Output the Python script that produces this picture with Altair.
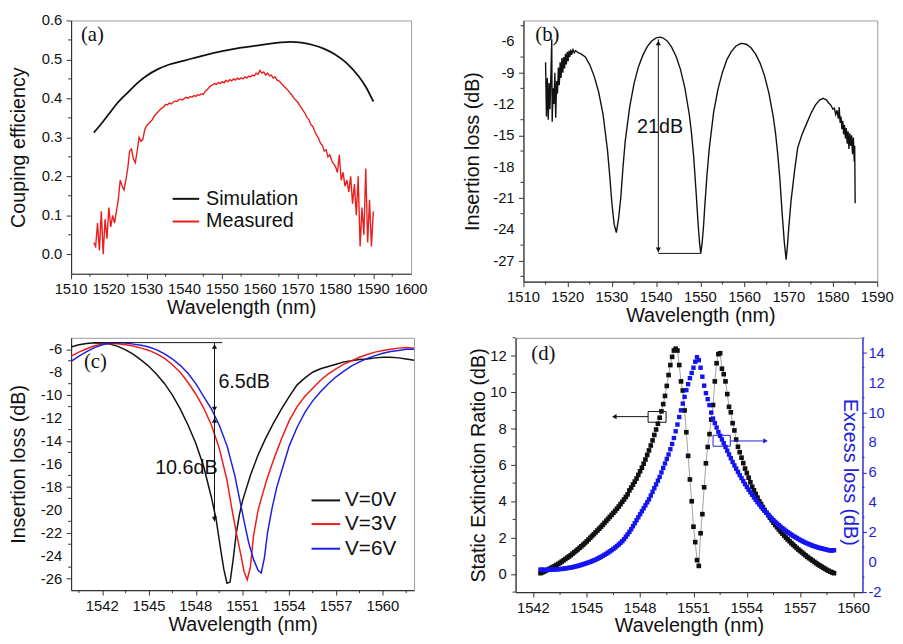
import altair as alt
import pandas as pd

FONT = "Liberation Sans"
SERIF = "Liberation Serif"
INK = "#111111"
AXC = "#333333"
RED = "#ec1c1c"
BLUE = "#1e1ede"
MBLUE = "#1414f0"
GREY_LINE = "#8a8a8a"

# ---------------- (a) coupling efficiency ----------------
sim_wl = [1516, 1518, 1520, 1522, 1525, 1528, 1530, 1533, 1536, 1540, 1545, 1550,
          1555, 1560, 1565, 1568, 1571, 1574, 1577, 1580, 1583, 1586, 1588, 1590]
sim_ce = [0.312, 0.335, 0.360, 0.385, 0.415, 0.443, 0.458, 0.475, 0.487, 0.497, 0.510, 0.521,
          0.530, 0.537, 0.543, 0.545, 0.543, 0.537, 0.527, 0.512, 0.490, 0.458, 0.430, 0.392]
meas_ce = [
    0.03, 0.02, 0.08, 0.01, 0.11, 0.00, 0.09, 0.04, 0.12, 0.07,
    0.10, 0.08, 0.11, 0.14, 0.19, 0.175, 0.165, 0.19, 0.22, 0.265,
    0.27, 0.245, 0.235, 0.265, 0.30, 0.29, 0.295, 0.32, 0.33, 0.335,
    0.34, 0.345, 0.355, 0.36, 0.365, 0.37, 0.375, 0.378, 0.385, 0.383,
    0.388, 0.386, 0.39, 0.393, 0.392, 0.396, 0.398, 0.396, 0.40, 0.403,
    0.40, 0.405, 0.403, 0.407, 0.405, 0.41, 0.408, 0.412, 0.41, 0.418,
    0.422, 0.428, 0.432, 0.435, 0.438, 0.436, 0.441, 0.438, 0.443, 0.44,
    0.446, 0.443, 0.448, 0.445, 0.45, 0.447, 0.452, 0.449, 0.453, 0.45,
    0.455, 0.452, 0.457, 0.455, 0.46, 0.458, 0.465, 0.462, 0.472, 0.465,
    0.468, 0.46, 0.465, 0.458, 0.46, 0.452, 0.455, 0.447, 0.445, 0.44,
    0.435, 0.43, 0.425, 0.42, 0.413, 0.408, 0.40, 0.395, 0.39, 0.382,
    0.375, 0.368, 0.36, 0.35, 0.345, 0.332, 0.328, 0.315, 0.305, 0.298,
    0.285, 0.28, 0.265, 0.268, 0.25, 0.255, 0.24, 0.232, 0.225, 0.21,
    0.255, 0.19, 0.21, 0.175, 0.19, 0.16, 0.20, 0.13, 0.18, 0.10,
    0.20, 0.02, 0.12, 0.05, 0.22, 0.03, 0.14, 0.02, 0.11]
meas_wl = [round(1516.0 + 0.5 * i, 1) for i in range(len(meas_ce))]
a_xticks = [1510, 1520, 1530, 1540, 1550, 1560, 1570, 1580, 1590, 1600]
a_yticks = [0.0, 0.1, 0.2, 0.3, 0.4, 0.5, 0.6]
a_ylabels = ["0.0", "0.1", "0.2", "0.3", "0.4", "0.5", "0.6"]

# ---------------- (b) insertion loss spectrum ----------------
b_wl = [1515.0, 1515.2, 1515.4, 1515.6, 1515.8, 1516.0, 1516.2, 1516.4, 1516.5, 1516.7,
        1516.9, 1517.1, 1517.3, 1517.5, 1517.7, 1517.9, 1518.1, 1518.3, 1518.5, 1518.7,
        1518.9, 1519.1, 1519.3, 1519.5, 1519.7, 1519.9, 1520.1, 1520.3, 1520.5, 1520.7,
        1520.9, 1521.2, 1521.5, 1521.8, 1522.1, 1522.5,
        1523, 1524, 1525, 1526, 1527, 1528, 1529, 1529.5, 1530, 1530.5, 1531,
        1531.5, 1532, 1532.5, 1533, 1534, 1535, 1536, 1537, 1538, 1539, 1540, 1540.8,
        1541.5, 1542.5, 1543.5, 1544.5, 1545.5, 1546.5, 1547.5, 1548, 1548.5, 1549, 1549.5, 1549.8, 1550.1,
        1550.4, 1550.7, 1551, 1551.5, 1552, 1553, 1554, 1555, 1556, 1557, 1558, 1559, 1559.5,
        1560.5, 1561.5, 1562.5, 1563.5, 1564.5, 1565.5, 1566.5, 1567, 1567.5, 1568, 1568.5, 1569, 1569.4,
        1569.7, 1570, 1570.5, 1571.3, 1572, 1573, 1574, 1575, 1576, 1577, 1577.8,
        1578, 1578.5, 1579, 1579.5, 1580, 1580.3, 1580.6, 1580.9, 1581.2, 1581.4,
        1581.6, 1581.8, 1582, 1582.2, 1582.4, 1582.6, 1582.8, 1583, 1583.2, 1583.4,
        1583.6, 1583.8, 1584, 1584.2, 1584.4, 1584.6, 1584.8, 1584.9, 1585]
b_il = [-8.0, -13.2, -9.5, -13.5, -10.0, -12.5, -9.2, -5.8, -13.7, -10.5,
        -12.0, -9.0, -13.3, -9.8, -11.0, -8.5, -10.2, -8.0, -9.5, -7.6,
        -9.0, -7.5, -8.6, -7.2, -8.2, -7.0, -7.9, -6.9, -7.5, -6.8,
        -7.3, -6.8, -7.1, -6.9, -7.0, -7.1,
        -7.2, -7.5, -8.25, -9.35, -10.85, -13.0, -16.4, -18.8, -21.5, -23.5, -24.3,
        -23.0, -21.0, -18.1, -15.6, -12.35, -10.05, -8.45, -7.32, -6.5, -5.97, -5.67, -5.6,
        -5.66, -5.96, -6.55, -7.42, -8.68, -10.45, -13.0, -14.8, -17.1, -20.2, -23.5, -25.2, -26.3,
        -25.3, -23.8, -21.8, -18.8, -16.3, -12.8, -10.55, -8.95, -7.75, -6.98, -6.47, -6.23, -6.2,
        -6.3, -6.64, -7.22, -8.08, -9.28, -10.95, -13.25, -14.8, -16.8, -19.3, -22.5, -25.3, -26.9,
        -25.5, -23.8, -21.3, -18.4, -16.2, -14.9, -13.9, -12.9, -12.1, -11.6, -11.45,
        -11.5, -11.6, -11.9, -12.1, -12.5, -12.4, -13.0, -12.6, -13.4, -12.3,
        -13.8, -13.2, -14.4, -13.6, -14.9, -14.0, -15.3, -14.3, -15.8, -14.6,
        -16.3, -14.8, -16.0, -15.0, -16.8, -15.2, -17.5, -16.0, -21.5]
b_xticks = [1510, 1520, 1530, 1540, 1550, 1560, 1570, 1580, 1590]
b_yticks = [-27, -24, -21, -18, -15, -12, -9, -6]

# ---------------- (c) tuning with voltage ----------------
c_labels = ["V=0V", "V=3V", "V=6V"]
c0_wl = [1540, 1540.5, 1541, 1541.5, 1542, 1542.5, 1543, 1543.5, 1544, 1544.5,
         1545, 1545.5, 1546, 1546.5, 1547, 1547.5, 1548, 1548.5, 1549, 1549.3,
         1549.6, 1549.8, 1550.0, 1550.2, 1550.4, 1550.6, 1550.8, 1551.0, 1551.5, 1552,
         1552.5, 1553, 1553.5, 1554, 1554.5, 1555, 1555.5, 1556, 1556.5, 1557,
         1557.5, 1558, 1558.5, 1559, 1559.5, 1560, 1560.5, 1561, 1561.5, 1562]
c0_il = [-5.8, -5.6, -5.5, -5.43, -5.45, -5.55, -5.75, -6.05, -6.45, -6.95,
         -7.5, -8.2, -9.0, -10.0, -11.2, -12.6, -14.2, -16.2, -18.9, -20.8,
         -23.5, -25.2, -26.4, -26.3, -24.3, -22.0, -20.4, -19.2, -17.0, -15.2,
         -13.7, -12.4, -11.2, -10.1, -9.1, -8.5, -8.0, -7.7, -7.5, -7.3,
         -7.1, -7.0, -6.9, -6.85, -6.75, -6.7, -6.7, -6.75, -6.85, -6.95]
c3_wl = [1540, 1540.5, 1541, 1541.5, 1542, 1542.5, 1543, 1543.5, 1544, 1544.5,
         1545, 1545.5, 1546, 1546.5, 1547, 1547.5, 1548, 1548.5, 1549, 1549.5,
         1550, 1550.3, 1550.6, 1550.9, 1551.1, 1551.3, 1551.5, 1551.7, 1552,
         1552.5, 1553, 1553.5, 1554, 1554.5, 1555, 1555.5, 1556, 1556.5, 1557,
         1557.5, 1558, 1558.5, 1559, 1559.5, 1560, 1560.5, 1561, 1561.5, 1562]
c3_il = [-6.6, -6.25, -5.95, -5.7, -5.55, -5.5, -5.52, -5.6, -5.72, -5.9,
         -6.1, -6.4, -6.8, -7.35, -8.0, -8.9, -9.9, -11.1, -12.6, -14.6,
         -17.4, -19.8, -22.0, -24.0, -25.4, -26.1, -25.0, -22.3, -20.0,
         -17.6, -15.6, -13.8, -12.2, -11.0, -10.1, -9.4, -8.7, -8.15, -7.7,
         -7.3, -7.0, -6.7, -6.45, -6.25, -6.1, -6.0, -5.9, -5.85, -5.9]
c6_wl = [1540, 1540.5, 1541, 1541.5, 1542, 1542.5, 1543, 1543.5, 1544, 1544.5,
         1545, 1545.5, 1546, 1546.5, 1547, 1547.5, 1548, 1548.5, 1549, 1549.5,
         1550, 1550.5, 1550.8, 1551.1, 1551.4, 1551.7, 1552, 1552.2, 1552.4, 1552.6,
         1552.9, 1553.2, 1553.6, 1554, 1554.5, 1555, 1555.5, 1556, 1556.5, 1557,
         1557.5, 1558, 1558.5, 1559, 1559.5, 1560, 1560.5, 1561, 1561.5, 1562]
c6_il = [-7.05, -6.6, -6.2, -5.85, -5.6, -5.45, -5.42, -5.45, -5.55, -5.65,
         -5.8, -6.05, -6.4, -6.85, -7.4, -8.1, -9.0, -10.1, -11.2, -12.6,
         -14.4, -17.0, -19.0, -21.0, -22.9, -24.3, -25.3, -25.5, -24.2, -22.0,
         -19.8, -18.0, -16.2, -14.4, -12.8, -11.5, -10.5, -9.7, -9.0, -8.4,
         -7.9, -7.45, -7.1, -6.8, -6.55, -6.35, -6.2, -6.1, -6.0, -6.0]
c_xticks = [1542, 1545, 1548, 1551, 1554, 1557, 1560]
c_yticks = [-26, -24, -22, -20, -18, -16, -14, -12, -10, -8, -6]

# ---------------- (d) extinction ratio / excess loss ----------------
d_er = [0.04, 0.08, 0.13, 0.18, 0.23, 0.28, 0.33, 0.38, 0.43, 0.49,
        0.55, 0.61, 0.68, 0.75, 0.82, 0.89, 0.96, 1.03, 1.11, 1.19,
        1.27, 1.35, 1.44, 1.52, 1.61, 1.70, 1.79, 1.89, 1.99, 2.09,
        2.19, 2.29, 2.39, 2.49, 2.59, 2.70, 2.81, 2.92, 3.03, 3.14,
        3.25, 3.36, 3.47, 3.59, 3.71, 3.84, 3.97, 4.10, 4.24, 4.38,
        4.60, 4.75, 4.92, 5.08, 5.25, 5.45, 5.65, 5.85, 6.07, 6.30,
        6.55, 6.80, 7.07, 7.35, 7.65, 7.95, 8.27, 8.60, 8.95, 9.35,
        9.80, 10.35, 10.95, 11.50, 11.95, 12.30, 12.40, 12.30, 11.50, 10.60,
        10.10, 9.00, 7.80, 6.50, 5.20, 4.00, 2.60, 1.75, 0.76, 0.44,
        2.24, 3.29, 4.77, 6.09, 6.99, 7.70, 8.50, 9.30, 10.60, 11.60,
        12.10, 12.15, 11.30, 11.00, 10.60, 9.90, 9.20, 8.90, 8.30, 7.90,
        7.40, 7.00, 6.70, 6.40, 6.10, 5.80, 5.55, 5.30, 5.05, 4.80,
        4.60, 4.40, 4.20, 4.00, 3.85, 3.68, 3.52, 3.37, 3.23, 3.09,
        2.95, 2.82, 2.69, 2.57, 2.45, 2.33, 2.22, 2.11, 2.00, 1.90,
        1.80, 1.70, 1.61, 1.52, 1.43, 1.34, 1.26, 1.18, 1.10, 1.02,
        0.94, 0.87, 0.80, 0.73, 0.66, 0.59, 0.52, 0.46, 0.40, 0.34,
        0.28, 0.22, 0.17, 0.12, 0.08, 0.04]
d_el = [-0.50, -0.50, -0.52, -0.52, -0.52, -0.51, -0.50, -0.50, -0.49, -0.48,
        -0.47, -0.46, -0.45, -0.44, -0.42, -0.40, -0.38, -0.36, -0.34, -0.31,
        -0.28, -0.25, -0.22, -0.18, -0.14, -0.10, -0.06, -0.02, 0.02, 0.07,
        0.12, 0.17, 0.23, 0.29, 0.35, 0.42, 0.49, 0.56, 0.64, 0.72,
        0.80, 0.89, 0.98, 1.08, 1.18, 1.29, 1.40, 1.54, 1.70, 1.86,
        2.03, 2.20, 2.40, 2.60, 2.80, 3.00, 3.20, 3.40, 3.60, 3.80,
        4.00, 4.20, 4.45, 4.70, 4.95, 5.20, 5.45, 5.70, 6.00, 6.30,
        6.60, 6.90, 7.20, 7.55, 7.90, 8.30, 8.75, 9.20, 9.70, 10.15,
        10.60, 11.05, 11.50, 11.90, 12.30, 12.65, 13.00, 13.40, 13.70, 13.50,
        13.00, 12.40, 11.80, 11.30, 10.90, 10.50, 10.00, 9.60, 9.30, 9.00,
        8.70, 8.45, 8.20, 7.95, 7.70, 7.45, 7.20, 6.95, 6.70, 6.47,
        6.25, 6.03, 5.82, 5.62, 5.42, 5.22, 5.03, 4.85, 4.67, 4.50,
        4.33, 4.17, 4.01, 3.86, 3.71, 3.57, 3.43, 3.30, 3.17, 3.04,
        2.92, 2.80, 2.69, 2.58, 2.47, 2.37, 2.27, 2.18, 2.09, 2.00,
        1.92, 1.84, 1.76, 1.69, 1.62, 1.55, 1.48, 1.42, 1.36, 1.30,
        1.25, 1.20, 1.15, 1.10, 1.06, 1.02, 0.98, 0.95, 0.92, 0.89,
        0.86, 0.83, 0.80, 0.78, 0.78, 0.80]
d_wl = [round(1542.4 + 0.1 * i, 1) for i in range(len(d_er))]
d_xticks = [1542, 1545, 1548, 1551, 1554, 1557, 1560]
d_yticks = [0, 2, 4, 6, 8, 10, 12]
d_rticks = [-2, 0, 2, 4, 6, 8, 10, 12, 14]

assert len(b_wl) == len(b_il)
assert len(c0_wl) == len(c0_il) and len(c3_wl) == len(c3_il) and len(c6_wl) == len(c6_il)
assert len(d_er) == len(d_el)

one = pd.DataFrame({"k": [0]})


def steps(lo, hi, st):
    n = int(round((hi - lo) / st)) + 1
    return [round(lo + st * i, 3) for i in range(n)]


def ax(values, title, tp, tick=5, **kw):
    # tick marks + title from the axis; tick labels are drawn as text marks below
    return alt.Axis(values=values, title=title, tickSize=tick, labels=False,
                    titlePadding=tp, **kw)


XTP = 19


def sc(lo, hi):
    return alt.Scale(domain=[lo, hi], nice=False, zero=False)


def tag(txt, x, y):
    return alt.Chart(one).mark_text(text=txt, font=SERIF, fontSize=21, align="left",
                                    baseline="middle", color=INK).encode(
        x=alt.value(x), y=alt.value(y))


def leg_line(color, x1, x2, y):
    return alt.Chart(one).mark_rule(color=color, strokeWidth=2).encode(
        x=alt.value(x1), x2=alt.value(x2), y=alt.value(y))


def leg_text(txt, x, y, size=20):
    return alt.Chart(one).mark_text(text=txt, font=FONT, fontSize=size, align="left",
                                    baseline="middle", color=INK).encode(
        x=alt.value(x), y=alt.value(y))


def xlabels(vals, h, texts=None):
    texts = texts or [str(v) for v in vals]
    df = pd.DataFrame({"wl": vals, "t": texts})
    return alt.Chart(df).mark_text(font=FONT, fontSize=15, align="center", baseline="top",
                                   color=INK).encode(x="wl:Q", y=alt.value(h + 9), text="t:N")


def ylabels(yf, vals, texts=None, x=-9, align="right", color=INK):
    texts = texts or [str(v) for v in vals]
    df = pd.DataFrame({yf: vals, "t": texts})
    return alt.Chart(df).mark_text(font=FONT, fontSize=15, align=align, baseline="middle",
                                   color=color).encode(y=f"{yf}:Q", x=alt.value(x), text="t:N")


def vrule(yf, x, y1, y2, color=INK):
    df = pd.DataFrame({"wl": [x], yf: [y1], "y2": [y2]})
    return alt.Chart(df).mark_rule(color=color, strokeWidth=1).encode(
        x="wl:Q", y=f"{yf}:Q", y2="y2:Q")


def hrule(yf, x1, x2, y, color=INK):
    df = pd.DataFrame({"wl": [x1], "x2": [x2], yf: [y]})
    return alt.Chart(df).mark_rule(color=color, strokeWidth=1).encode(
        x="wl:Q", x2="x2:Q", y=f"{yf}:Q")


def heads(yf, xs, ys, shapes, color=INK):
    df = pd.DataFrame({"wl": xs, yf: ys, "s": shapes})
    return alt.Chart(df).mark_point(filled=True, size=28, color=color, opacity=1).encode(
        x="wl:Q", y=f"{yf}:Q", shape=alt.Shape("s:N", scale=None, legend=None))


def note(yf, x, y, txt, align="center"):
    df = pd.DataFrame({"wl": [x], yf: [y], "t": [txt]})
    return alt.Chart(df).mark_text(font=FONT, fontSize=20, color=INK, align=align,
                                   baseline="middle").encode(x="wl:Q", y=f"{yf}:Q", text="t:N")


def box(yf, x1, x2, y1, y2, color):
    df = pd.DataFrame({"wl": [x1], "x2": [x2], yf: [y1], "y2": [y2]})
    return alt.Chart(df).mark_rect(fillOpacity=0, stroke=color, strokeWidth=1).encode(
        x="wl:Q", x2="x2:Q", y=f"{yf}:Q", y2="y2:Q")


def minor_x(vals, h):
    df = pd.DataFrame({"wl": vals})
    return alt.Chart(df).mark_rule(color=AXC, strokeWidth=1).encode(
        x="wl:Q", y=alt.value(h), y2=alt.value(h + 3))


def minor_y(yf, vals, x0, x1, color=AXC):
    df = pd.DataFrame({yf: vals})
    return alt.Chart(df).mark_rule(color=color, strokeWidth=1).encode(
        y=f"{yf}:Q", x=alt.value(x0), x2=alt.value(x1))


# ----- panel a -----
WA, HA = 345, 257
xa = alt.X("wl:Q", scale=sc(1510, 1600), axis=ax(a_xticks, "Wavelength (nm)", XTP))
ya = alt.Y("ce:Q", scale=sc(-0.05, 0.6), axis=ax(a_yticks, "Couping efficiency", 38))
a_sim = alt.Chart(pd.DataFrame({"wl": sim_wl, "ce": sim_ce})).mark_line(
    color=INK, strokeWidth=1.8, interpolate="monotone").encode(x=xa, y=ya)
a_meas = alt.Chart(pd.DataFrame({"wl": meas_wl, "ce": meas_ce})).mark_line(
    color=RED, strokeWidth=1.4).encode(x="wl:Q", y="ce:Q")
pa = alt.layer(
    a_sim, a_meas,
    xlabels(a_xticks, HA), ylabels("ce", a_yticks, a_ylabels),
    minor_x(steps(1515, 1595, 10), HA),
    minor_y("ce", steps(0.05, 0.55, 0.1), -3, 0),
    leg_line(INK, 103, 130, 181), leg_line(RED, 103, 130, 204),
    leg_text("Simulation", 137, 181), leg_text("Measured", 137, 204),
    tag("(a)", 10, 15),
).properties(width=WA, height=HA)

# ----- panel b -----
WB, HB = 359, 265
xb = alt.X("wl:Q", scale=sc(1510, 1590), axis=ax(b_xticks, "Wavelength (nm)", XTP))
yb = alt.Y("il:Q", scale=sc(-29, -4), axis=ax(b_yticks, "Insertion loss (dB)", 36))
b_line = alt.Chart(pd.DataFrame({"wl": b_wl, "il": b_il})).mark_line(
    color=INK, strokeWidth=1.4).encode(x=xb, y=yb)
pb = alt.layer(
    b_line,
    xlabels(b_xticks, HB), ylabels("il", b_yticks),
    minor_x(steps(1515, 1585, 10), HB),
    minor_y("il", steps(-28.5, -4.5, 3), -3, 0),
    vrule("il", 1540.5, -5.8, -26.2),
    hrule("il", 1540.5, 1550.1, -26.3),
    heads("il", [1540.5, 1540.5], [-6.15, -25.95], ["triangle-up", "triangle-down"]),
    note("il", 1540.9, -14.2, "21dB"),
    tag("(b)", 12, 15),
).properties(width=WB, height=HB)

# ----- panel c -----
WC, HC = 348, 256
xc = alt.X("wl:Q", scale=sc(1540, 1562), axis=ax(c_xticks, "Wavelength (nm)", XTP))
yc = alt.Y("il:Q", scale=sc(-27, -5), axis=ax(c_yticks, "Insertion loss (dB)", 38))
c_black = alt.Chart(pd.DataFrame({"wl": c0_wl, "il": c0_il})).mark_line(
    color=INK, strokeWidth=1.5).encode(x=xc, y=yc)
c_red = alt.Chart(pd.DataFrame({"wl": c3_wl, "il": c3_il})).mark_line(
    color=RED, strokeWidth=1.5).encode(x="wl:Q", y="il:Q")
c_blue = alt.Chart(pd.DataFrame({"wl": c6_wl, "il": c6_il})).mark_line(
    color=BLUE, strokeWidth=1.5).encode(x="wl:Q", y="il:Q")
pc = alt.layer(
    c_black, c_red, c_blue,
    xlabels(c_xticks, HC), ylabels("il", c_yticks),
    minor_x(steps(1540.5, 1561.5, 3), HC),
    minor_y("il", steps(-25, -7, 2), -3, 0),
    hrule("il", 1541.6, 1549.7, -5.42),
    vrule("il", 1549.2, -5.42, -21.0),
    heads("il", [1549.2] * 4, [-5.75, -11.2, -12.2, -20.8],
          ["triangle-up", "triangle-down", "triangle-up", "triangle-down"]),
    note("il", 1549.45, -8.9, "6.5dB", "left"),
    note("il", 1549.4, -16.4, "10.6dB", "right"),
    leg_line(INK, 244, 273, 165), leg_line(RED, 244, 273, 189), leg_line(BLUE, 244, 273, 214),
    leg_text(c_labels[0], 278, 165, 21), leg_text(c_labels[1], 278, 189, 21),
    leg_text(c_labels[2], 278, 214, 21),
    tag("(c)", 13, 25),
).properties(width=WC, height=HC)

# ----- panel d -----
WD, HD = 352, 258
xd = alt.X("wl:Q", scale=sc(1541, 1560.5), axis=ax(d_xticks, "Wavelength (nm)", XTP))
yd = alt.Y("er:Q", scale=sc(-1, 13), axis=ax(d_yticks, "Static Extinction Ratio (dB)", 22))
er_df = pd.DataFrame({"wl": d_wl, "er": d_er})
d_line = alt.Chart(er_df).mark_line(color=GREY_LINE, strokeWidth=0.8).encode(x=xd, y=yd)
d_pts = alt.Chart(er_df).mark_square(size=22, color=INK, opacity=1).encode(x="wl:Q", y="er:Q")
d_left = alt.layer(
    d_line, d_pts,
    xlabels(d_xticks, HD), ylabels("er", d_yticks),
    minor_x(steps(1543.5, 1558.5, 3), HD),
    minor_y("er", steps(-1, 13, 2), -3, 0),
    box("er", 1548.45, 1549.46, 8.35, 8.94, INK),
    hrule("er", 1546.6, 1548.45, 8.66),
    box("er", 1552.1, 1553.07, 7.03, 7.63, BLUE),
    hrule("er", 1553.07, 1555.0, 7.32, BLUE),
    heads("er", [1546.55], [8.66], ["triangle-left"]),
    heads("er", [1555.05], [7.32], ["triangle-right"], color=BLUE),
    tag("(d)", 16, 17),
)
yr = alt.Y("el:Q", scale=sc(-2, 15),
           axis=ax(d_rticks, "Excess loss (dB)", 0, tick=4,
                   orient="right", domainColor=BLUE, tickColor=BLUE, titleColor=BLUE,
                   titleX=-13, titleY=136, titleAngle=90, titleBaseline="middle"))
d_right = alt.layer(
    alt.Chart(pd.DataFrame({"wl": d_wl, "el": d_el})).mark_square(
        size=20, color=MBLUE, opacity=1).encode(x="wl:Q", y=yr),
    ylabels("el", d_rticks, x=WD + 6, align="left", color=BLUE),
    minor_y("el", steps(-1, 15, 2), WD, WD + 2, BLUE),
)
pd_ = alt.layer(d_left, d_right).resolve_scale(y="independent").properties(width=WD, height=HD)

row1 = alt.hconcat(pa, pb, spacing=34)
row2 = alt.hconcat(pc, pd_, spacing=50)
chart = alt.vconcat(row1, row2, spacing=11).properties(
    padding={"left": 0, "top": 0, "right": 0, "bottom": 0},
    background="white",
).configure_view(stroke="#9a9a9a", strokeWidth=1).configure_axis(
    titleFont=FONT, titleFontSize=20, titleFontWeight="normal", titleColor=INK,
    domainColor=AXC, tickColor=AXC, domainWidth=1.2, tickWidth=1, grid=False,
)

chart.save("out.html", embed_options={"renderer": "svg", "actions": False})
